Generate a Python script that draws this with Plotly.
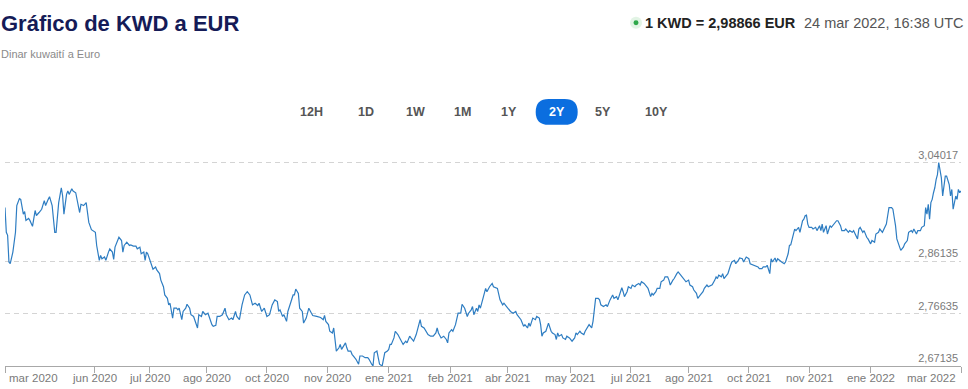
import pandas as pd
import plotly.graph_objects as go

# ---------------- data ----------------
start_date = "2020-03-24"
# days since start_date
days = [
    0, 1, 2, 3, 4, 6, 8, 9, 11, 12,
    14, 15, 16, 18, 19, 21, 23, 24, 26, 28,
    30, 31, 33, 34, 36, 38, 39, 41, 43, 44,
    45, 47, 48, 49, 51, 52, 54, 56, 57, 58,
    60, 62, 63, 64, 66, 69, 70, 72, 73, 74,
    76, 77, 79, 80, 82, 83, 84, 86, 87, 89,
    90, 91, 93, 95, 96, 98, 100, 101, 103, 104,
    106, 107, 108, 109, 111, 113, 115, 116, 118, 119,
    121, 122, 124, 125, 126, 127, 128, 129, 131, 132,
    133, 135, 136, 138, 139, 141, 142, 144, 145, 147,
    148, 150, 151, 153, 155, 156, 158, 159, 161, 162,
    164, 166, 168, 169, 171, 173, 174, 176, 177, 179,
    181, 183, 185, 187, 189, 191, 193, 194, 196, 198,
    200, 202, 204, 206, 208, 209, 210, 212, 213, 215,
    216, 218, 220, 221, 222, 224, 225, 227, 228, 230,
    231, 232, 234, 235, 238, 241, 243, 244, 245, 247,
    248, 250, 251, 252, 253, 255, 256, 257, 259, 260,
    261, 262, 264, 265, 267, 268, 270, 271, 273, 275,
    277, 278, 280, 281, 282, 284, 285, 286, 288, 289,
    290, 292, 293, 294, 295, 297, 298, 300, 301, 302,
    304, 306, 307, 309, 310, 312, 314, 315, 316, 317,
    318, 320, 322, 323, 325, 327, 329, 330, 331, 333,
    335, 337, 338, 339, 341, 342, 344, 346, 348, 349,
    351, 353, 354, 356, 357, 358, 360, 361, 362, 363,
    365, 367, 368, 370, 372, 373, 376, 377, 378, 380,
    381, 383, 384, 386, 388, 390, 391, 393, 394, 396,
    397, 399, 400, 401, 403, 405, 406, 408, 409, 410,
    411, 413, 414, 415, 417, 418, 420, 421, 422, 423,
    425, 426, 428, 429, 431, 433, 435, 436, 437, 439,
    440, 442, 443, 445, 446, 448, 449, 450, 451, 453,
    454, 455, 457, 459, 460, 462, 464, 465, 467, 468,
    470, 471, 472, 473, 475, 476, 478, 479, 481, 482,
    484, 485, 486, 488, 490, 491, 493, 494, 495, 497,
    498, 500, 501, 503, 504, 506, 507, 508, 510, 511,
    513, 514, 516, 517, 519, 520, 522, 523, 525, 526,
    528, 529, 531, 533, 534, 536, 537, 539, 540, 542,
    543, 544, 545, 547, 548, 549, 550, 552, 554, 555,
    557, 558, 560, 561, 563, 564, 566, 568, 569, 571,
    573, 575, 576, 578, 579, 581, 582, 584, 585, 586,
    588, 589, 590, 592, 593, 595, 596, 598, 599, 600,
    602, 603, 604, 606, 607, 608, 609, 610, 611, 612,
    613, 614, 616, 617, 619, 620, 622, 623, 624, 625,
    627, 628, 630, 631, 633, 635, 636, 638, 639, 641,
    642, 644, 645, 647, 648, 650, 651, 652, 653, 655,
    656, 658, 659, 661, 662, 664, 665, 667, 668, 670,
    671, 673, 674, 675, 677, 678, 679, 680, 681, 683,
    684, 686, 687, 689, 690, 692, 693, 694, 696, 697,
    699, 700, 702, 703, 704, 705, 706, 707, 708, 709,
    710, 711, 712, 713, 714, 715, 716, 717, 718, 719,
    720, 721, 722, 723, 724, 725, 726, 727, 728, 729,
    730,
]
rate = [
    2.9587, 2.9139, 2.9085, 2.8601, 2.8570, 2.8780, 2.9139, 2.9623, 2.9748, 2.9735,
    2.9467, 2.9515, 2.9354, 2.9390, 2.9354, 2.9246, 2.9533, 2.9443, 2.9497, 2.9556,
    2.9712, 2.9623, 2.9735, 2.9784, 2.9623, 2.9139, 2.9139, 2.9676, 2.9945, 2.9796,
    2.9467, 2.9825, 2.9886, 2.9825, 2.9927, 2.9886, 2.9855, 2.9623, 2.9497, 2.9646,
    2.9623, 2.9676, 2.9528, 2.9318, 2.9187, 2.9139, 2.8900, 2.8631, 2.8721, 2.8660,
    2.8691, 2.8631, 2.8780, 2.8839, 2.8780, 2.8649, 2.8870, 2.8990, 2.9049, 2.8990,
    2.8780, 2.8900, 2.8959, 2.8900, 2.8911, 2.8888, 2.8888, 2.8839, 2.8870, 2.8750,
    2.8780, 2.8631, 2.8780, 2.8750, 2.8601, 2.8470, 2.8511, 2.8452, 2.8391, 2.8273,
    2.8153, 2.8004, 2.7943, 2.7825, 2.7854, 2.7735, 2.7585, 2.7764, 2.7764, 2.7735,
    2.7764, 2.7556, 2.7705, 2.7764, 2.7836, 2.7764, 2.7646, 2.7615, 2.7556, 2.7406,
    2.7646, 2.7615, 2.7705, 2.7646, 2.7674, 2.7597, 2.7467, 2.7436, 2.7454, 2.7615,
    2.7615, 2.7646, 2.7764, 2.7646, 2.7556, 2.7585, 2.7556, 2.7705, 2.7615, 2.7556,
    2.7825, 2.8004, 2.8063, 2.8004, 2.7825, 2.7854, 2.7812, 2.7854, 2.7705, 2.7764,
    2.7615, 2.7646, 2.7825, 2.7915, 2.7884, 2.7705, 2.7735, 2.7615, 2.7646, 2.7526,
    2.7705, 2.7854, 2.8004, 2.8004, 2.8112, 2.8033, 2.7764, 2.7705, 2.7495, 2.7585,
    2.7705, 2.7764, 2.7674, 2.7633, 2.7615, 2.7597, 2.7556, 2.7633, 2.7526, 2.7467,
    2.7347, 2.7316, 2.7406, 2.7167, 2.6988, 2.7047, 2.7108, 2.7019, 2.7108, 2.7137,
    2.7047, 2.6988, 2.6988, 2.6929, 2.6868, 2.6839, 2.6750, 2.6899, 2.6899, 2.6868,
    2.6868, 2.6839, 2.6750, 2.6719, 2.6958, 2.6988, 2.6868, 2.6750, 2.6719, 2.6839,
    2.6958, 2.6988, 2.7019, 2.7108, 2.7108, 2.7226, 2.7347, 2.7287, 2.7226, 2.7198,
    2.7108, 2.7167, 2.7137, 2.7257, 2.7226, 2.7167, 2.7287, 2.7406, 2.7467, 2.7556,
    2.7436, 2.7406, 2.7316, 2.7287, 2.7257, 2.7257, 2.7316, 2.7406, 2.7316, 2.7226,
    2.7257, 2.7198, 2.7137, 2.7316, 2.7377, 2.7347, 2.7467, 2.7674, 2.7674, 2.7836,
    2.7764, 2.7615, 2.7674, 2.7735, 2.7795, 2.7646, 2.7764, 2.7705, 2.7825, 2.7764,
    2.7943, 2.8123, 2.8063, 2.8153, 2.8212, 2.8153, 2.8123, 2.8004, 2.7915, 2.7825,
    2.7854, 2.7795, 2.7764, 2.7705, 2.7674, 2.7705, 2.7646, 2.7585, 2.7556, 2.7436,
    2.7467, 2.7406, 2.7495, 2.7436, 2.7585, 2.7556, 2.7615, 2.7585, 2.7467, 2.7257,
    2.7316, 2.7347, 2.7436, 2.7495, 2.7347, 2.7316, 2.7287, 2.7198, 2.7316, 2.7257,
    2.7287, 2.7226, 2.7198, 2.7257, 2.7226, 2.7167, 2.7226, 2.7316, 2.7287, 2.7347,
    2.7316, 2.7287, 2.7347, 2.7436, 2.7467, 2.7406, 2.7526, 2.7735, 2.7943, 2.7943,
    2.7915, 2.7825, 2.7795, 2.7825, 2.7795, 2.7915, 2.8004, 2.7943, 2.7974, 2.7915,
    2.8094, 2.8135, 2.8063, 2.7974, 2.8063, 2.8153, 2.8123, 2.8183, 2.8153, 2.8183,
    2.8212, 2.8183, 2.8243, 2.8212, 2.8153, 2.8123, 2.7974, 2.8033, 2.8004, 2.8063,
    2.8123, 2.8123, 2.8243, 2.8273, 2.8332, 2.8332, 2.8273, 2.8183, 2.8273, 2.8302,
    2.8391, 2.8422, 2.8363, 2.8332, 2.8273, 2.8243, 2.8273, 2.8183, 2.8153, 2.8094,
    2.8033, 2.7943, 2.8004, 2.8063, 2.8123, 2.8183, 2.8153, 2.8183, 2.8190, 2.8273,
    2.8332, 2.8302, 2.8363, 2.8332, 2.8391, 2.8302, 2.8332, 2.8391, 2.8542, 2.8601,
    2.8631, 2.8570, 2.8631, 2.8673, 2.8660, 2.8601, 2.8691, 2.8660, 2.8570, 2.8553,
    2.8542, 2.8511, 2.8481, 2.8481, 2.8511, 2.8511, 2.8542, 2.8391, 2.8660, 2.8601,
    2.8673, 2.8601, 2.8660, 2.8631, 2.8601, 2.8570, 2.8601, 2.8750, 2.8900, 2.8911,
    2.9079, 2.9198, 2.9169, 2.9228, 2.9139, 2.9259, 2.9348, 2.9377, 2.9438, 2.9449,
    2.9287, 2.9228, 2.9228, 2.9198, 2.9228, 2.9169, 2.9259, 2.9169, 2.9287, 2.9139,
    2.9259, 2.9108, 2.9259, 2.9228, 2.9287, 2.9348, 2.9348, 2.9259, 2.9169, 2.9169,
    2.9198, 2.9139, 2.9169, 2.9139, 2.9169, 2.9049, 2.9019, 2.9198, 2.9228, 2.9139,
    2.9169, 2.9049, 2.9019, 2.8929, 2.8990, 2.8959, 2.9108, 2.9139, 2.9198, 2.9139,
    2.9198, 2.9287, 2.9438, 2.9587, 2.9587, 2.9556, 2.9407, 2.9259, 2.9019, 2.8900,
    2.8811, 2.8870, 2.8929, 2.8990, 2.9139, 2.9169, 2.9139, 2.9198, 2.9108, 2.9169,
    2.9169, 2.9228, 2.9259, 2.9587, 2.9467, 2.9646, 2.9377, 2.9676, 2.9735, 2.9855,
    2.9945, 3.0094, 3.0183, 3.0400, 3.0244, 3.0124, 2.9796, 3.0035, 3.0155, 3.0155,
    3.0065, 3.0004, 2.9796, 2.9915, 2.9556, 2.9676, 2.9796, 2.9735, 2.9915, 2.9855,
    2.9887,
]
assert len(days) == len(rate)

# x-axis ticks
tick_dates = ["2020-03-24", "2020-05-31", "2020-07-12", "2020-08-25", "2020-10-10",
              "2020-11-25", "2021-01-11", "2021-02-27", "2021-04-12", "2021-05-30",
              "2021-07-15", "2021-08-28", "2021-10-13", "2021-11-28", "2022-01-14",
              "2022-03-24"]
tick_labels = ["mar 2020", "jun 2020", "jul 2020", "ago 2020", "oct 2020", "nov 2020",
               "ene 2021", "feb 2021", "abr 2021", "may 2021", "jul 2021", "ago 2021",
               "oct 2021", "nov 2021", "ene 2022", "mar 2022"]
# y-axis ticks
y_ticks = [2.67135, 2.76635, 2.86135, 3.04017]
y_tick_labels = ["2,67135", "2,76635", "2,86135", "3,04017"]

title = "Gráfico de KWD a EUR"
subtitle = "Dinar kuwaití a Euro"
rate_text = "1 KWD = 2,98866 EUR"
stamp_text = "24 mar 2022, 16:38 UTC"
range_buttons = ["12H", "1D", "1W", "1M", "1Y", "2Y", "5Y", "10Y"]
active_button = "2Y"

# ---------------- layout helpers ----------------
W, H = 968, 389
FONT = "Liberation Sans, Arial, sans-serif"


def px(x):
    return x / W


def py(y):
    return 1 - y / H


dates = pd.Timestamp(start_date) + pd.to_timedelta(days, unit="D")

fig = go.Figure()
fig.add_trace(go.Scatter(
    x=dates, y=rate, mode="lines",
    line=dict(color="#2e7dc2", width=1.2),
    hoverinfo="x+y", showlegend=False,
))

x_left, x_right = 5, 961
y_bottom, y_top = 366, 150
y_min = 2.67135
y_max = y_min + (y_bottom - y_top) / 558.0

fig.update_layout(
    width=W, height=H,
    margin=dict(l=0, r=0, t=0, b=0),
    paper_bgcolor="white", plot_bgcolor="white",
    font=dict(family=FONT),
    xaxis=dict(
        domain=[px(x_left), px(x_right)],
        range=[pd.Timestamp(start_date), pd.Timestamp(tick_dates[-1])],
        tickmode="array", tickvals=tick_dates, ticktext=[""] * len(tick_dates),
        ticks="outside", ticklen=6, tickcolor="#a8a8a8", tickwidth=1,
        showline=True, linecolor="#a8a8a8", linewidth=1,
        showgrid=False, zeroline=False,
    ),
    yaxis=dict(
        domain=[py(y_bottom), py(y_top)],
        range=[y_min, y_max],
        side="right",
        tickmode="array", tickvals=y_ticks, ticktext=y_tick_labels,
        ticklabelposition="inside top", ticklabeloverflow="allow",
        tickfont=dict(size=11, color="#7a7a7a", family=FONT),
        ticks="", showline=False,
        showgrid=True, gridcolor="#d4d4d4", gridwidth=1, griddash="5px,4px",
        zeroline=False,
    ),
)

annotations = []
# x tick labels (first left-aligned, last right-aligned)
for i, (d, lab) in enumerate(zip(tick_dates, tick_labels)):
    if i == 0:
        anchor, shift = "left", 2
    elif i == len(tick_dates) - 1:
        anchor, shift = "right", -3
    else:
        anchor, shift = "center", 0
    annotations.append(dict(
        x=d, xref="x", y=py(378), yref="paper", text=lab, showarrow=False,
        xanchor=anchor, yanchor="middle", xshift=shift,
        font=dict(size=11.5, color="#7a7a7a", family=FONT),
    ))

# header texts
annotations.append(dict(x=px(-1), y=py(20), xref="paper", yref="paper", text="<b>" + title + "</b>",
                        showarrow=False, xanchor="left", yanchor="middle",
                        font=dict(size=22, color="#151b57", family=FONT)))
annotations.append(dict(x=px(-1), y=py(51), xref="paper", yref="paper", text=subtitle,
                        showarrow=False, xanchor="left", yanchor="middle",
                        font=dict(size=11, color="#8a8a8a", family=FONT)))
annotations.append(dict(x=px(966), y=py(19), xref="paper", yref="paper", text=stamp_text,
                        showarrow=False, xanchor="right", yanchor="middle",
                        font=dict(size=14.5, color="#555555", family=FONT)))
annotations.append(dict(x=px(798), y=py(19), xref="paper", yref="paper", text="<b>" + rate_text + "</b>",
                        showarrow=False, xanchor="right", yanchor="middle",
                        font=dict(size=14.5, color="#222222", family=FONT)))

# range buttons
button_x = [311.7, 366, 415, 462.7, 509.3, 556.7, 602.7, 656.7]
shapes = []
for lab, bx in zip(range_buttons, button_x):
    active = lab == active_button
    if active:
        x0, x1, y0, y1, r = bx - 21, bx + 21, 96, 122, 13
        path = (f"M {px(x0 + r)},{py(y0)} L {px(x1 - r)},{py(y0)} "
                f"Q {px(x1)},{py(y0)} {px(x1)},{py((y0 + y1) / 2)} "
                f"Q {px(x1)},{py(y1)} {px(x1 - r)},{py(y1)} "
                f"L {px(x0 + r)},{py(y1)} "
                f"Q {px(x0)},{py(y1)} {px(x0)},{py((y0 + y1) / 2)} "
                f"Q {px(x0)},{py(y0)} {px(x0 + r)},{py(y0)} Z")
        shapes.append(dict(type="path", xref="paper", yref="paper", path=path,
                           fillcolor="#0b6edf", line=dict(width=0), layer="below"))
    annotations.append(dict(x=px(bx), y=py(109), xref="paper", yref="paper",
                            text="<b>" + lab + "</b>", showarrow=False,
                            xanchor="center", yanchor="middle",
                            font=dict(size=12.5, color="white" if active else "#555555", family=FONT)))

# live dot
shapes.append(dict(type="circle", xref="paper", yref="paper",
                   x0=px(630), x1=px(642), y0=py(25), y1=py(13),
                   fillcolor="rgba(60,180,80,0.15)", line=dict(width=0)))
shapes.append(dict(type="circle", xref="paper", yref="paper",
                   x0=px(633.5), x1=px(638.5), y0=py(21.5), y1=py(16.5),
                   fillcolor="#2ea84a", line=dict(width=0)))

fig.update_layout(annotations=annotations, shapes=shapes)

fig.write_html("out.html", config={"displayModeBar": False},
               post_script="document.body.style.margin='0';document.body.style.overflow='hidden';")
